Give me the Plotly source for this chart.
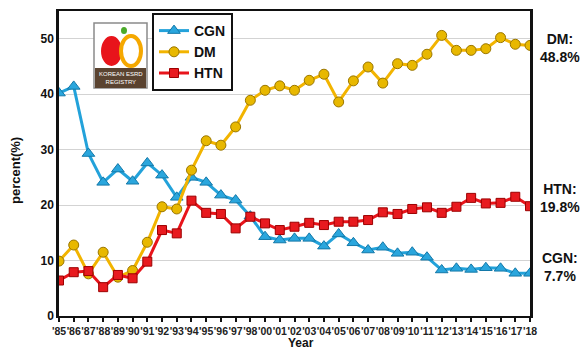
import plotly.graph_objects as go

years = ["'85","'86","'87","'88","'89","'90","'91","'92","'93","'94","'95","'96","'97","'98",
         "'00","'01","'02","'03","'04","'05","'06","'07","'08","'09","'10","'11","'12","'13",
         "'14","'15","'16","'17","'18"]
cgn = [40.2, 41.4, 29.3, 24.1, 26.5, 24.3, 27.6, 25.4, 21.4, 25.0, 24.1, 21.8, 20.9, 18.0,
       14.3, 13.7, 14.0, 14.0, 12.6, 14.8, 13.2, 11.9, 12.4, 11.3, 11.5, 10.6, 8.3, 8.6,
       8.4, 8.7, 8.6, 7.7, 7.7]
dm = [9.9, 12.8, 7.6, 11.5, 7.0, 8.2, 13.3, 19.7, 19.3, 26.3, 31.6, 30.8, 34.1, 38.9,
      40.7, 41.5, 40.7, 42.5, 43.6, 38.6, 42.4, 44.9, 42.0, 45.5, 45.2, 47.2, 50.6, 47.9,
      47.9, 48.2, 50.2, 49.0, 48.8]
htn = [6.4, 7.9, 8.1, 5.2, 7.4, 6.8, 9.8, 15.5, 14.9, 20.8, 18.6, 18.4, 15.8, 17.9,
       16.7, 15.5, 16.1, 16.8, 16.4, 17.0, 17.0, 17.3, 18.7, 18.4, 19.3, 19.6, 18.6, 19.7,
       21.3, 20.3, 20.4, 21.5, 19.8]
yticks = [0, 10, 20, 30, 40, 50]

FONT = "Liberation Sans, Arial, sans-serif"
L, R, T, B = 59, 530, 11, 316
W, H = 584, 351

def px(x):
    return (x - L) / (R - L)

def py(y):
    return (B - y) / (B - T)

xs = list(range(len(years)))

fig = go.Figure()
fig.add_trace(go.Scatter(
    x=xs, y=cgn, name="CGN", mode="lines+markers",
    line=dict(color="#23A2DA", width=3),
    marker=dict(symbol="triangle-up", size=11, color="#2AA6DD",
                line=dict(color="#1378A8", width=1))))
fig.add_trace(go.Scatter(
    x=xs, y=dm, name="DM", mode="lines+markers",
    line=dict(color="#F2B400", width=3),
    marker=dict(symbol="circle", size=10, color="#E8B800",
                line=dict(color="#9A7600", width=1))))
fig.add_trace(go.Scatter(
    x=xs, y=htn, name="HTN", mode="lines+markers",
    line=dict(color="#E8141B", width=3),
    marker=dict(symbol="square", size=9, color="#E81A1F",
                line=dict(color="#9C0000", width=1))))

fig.update_layout(
    width=W, height=H,
    margin=dict(l=L, r=W - R, t=T, b=H - B, autoexpand=False),
    paper_bgcolor="white", plot_bgcolor="white",
    font=dict(family=FONT, color="#111111"),
    showlegend=True,
    legend=dict(x=px(152), y=py(13), xanchor="left", yanchor="top",
                bgcolor="white", bordercolor="#111111", borderwidth=2,
                font=dict(family=FONT, size=14, color="#111111", weight="bold"),
                tracegroupgap=0, itemwidth=30),
)
fig.update_xaxes(
    range=[0, len(years) - 1], tickmode="array", tickvals=xs, ticktext=years,
    tickangle=0, ticks="outside", ticklen=4, tickwidth=1.5, tickcolor="#111111",
    tickfont=dict(family=FONT, size=10.5, color="#222222", weight="bold"),
    showline=True, linecolor="#111111", linewidth=2, mirror=True,
    showgrid=False, zeroline=False, automargin=False,
)
fig.update_yaxes(
    range=[0, 55], tickmode="array", tickvals=yticks,
    ticks="", tickfont=dict(family=FONT, size=12, color="#111111", weight="bold"),
    showline=True, linecolor="#111111", linewidth=2.5, mirror=True,
    showgrid=True, gridcolor="#D3D3D3", gridwidth=1, zeroline=False, automargin=False,
)

# axis titles
fig.add_annotation(xref="paper", yref="paper", x=px(301), y=py(351), xanchor="center",
                   yanchor="bottom", text="Year", showarrow=False, borderpad=0,
                   font=dict(family=FONT, size=12, color="#111111", weight="bold"))
fig.add_annotation(xref="paper", yref="paper", x=px(15), y=py(171), xanchor="center",
                   yanchor="middle", text="percent(%)", showarrow=False, textangle=-90,
                   font=dict(family=FONT, size=13, color="#111111", weight="bold"))

# right-side end labels
for name, vals, yc in [("DM", dm, 48), ("HTN", htn, 198), ("CGN", cgn, 267)]:
    fig.add_annotation(
        xref="paper", yref="paper", x=px(560), y=py(yc), xanchor="center", yanchor="middle",
        text=f"{name}:<br>{vals[-1]}%", showarrow=False, align="center",
        font=dict(family=FONT, size=14, color="#111111", weight="bold"))

# registry logo approximation
shapes = [
    dict(type="rect", xref="paper", yref="paper", x0=px(94), x1=px(147), y0=py(88), y1=py(23),
         fillcolor="white", line=dict(color="#8a8a8a", width=1.5)),
    dict(type="rect", xref="paper", yref="paper", x0=px(95), x1=px(146), y0=py(88), y1=py(68),
         fillcolor="#5A4330", line=dict(width=0)),
    dict(type="circle", xref="paper", yref="paper", x0=px(101), x1=px(122), y0=py(66), y1=py(36),
         fillcolor="#E8141B", line=dict(width=0)),
    dict(type="circle", xref="paper", yref="paper", x0=px(121), x1=px(141), y0=py(66), y1=py(36),
         fillcolor="rgba(0,0,0,0)", line=dict(color="#F5A800", width=4)),
    dict(type="circle", xref="paper", yref="paper", x0=px(121), x1=px(127), y0=py(34), y1=py(27),
         fillcolor="#4BAA2A", line=dict(width=0)),
]
fig.update_layout(shapes=shapes)
fig.add_annotation(xref="paper", yref="paper", x=px(120.5), y=py(78), xanchor="center",
                   yanchor="middle", text="KOREAN ESRD<br>REGISTRY", showarrow=False,
                   font=dict(family=FONT, size=6, color="white"), align="center")

fig.write_html("out.html")
